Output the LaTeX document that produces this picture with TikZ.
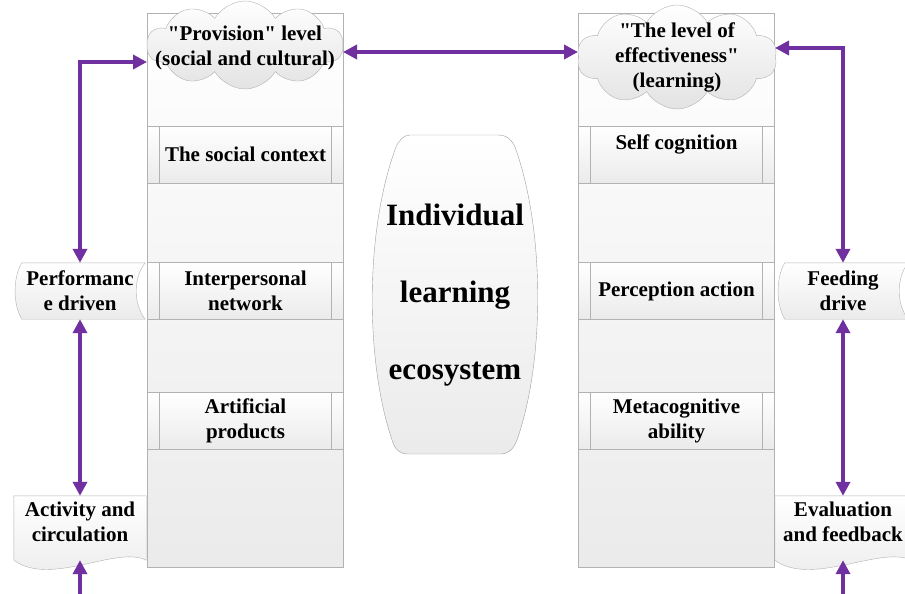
\documentclass[tikz,border=0pt]{standalone}
\usepackage{fontspec}
\setmainfont{Liberation Serif}
\usetikzlibrary{shapes.symbols,arrows.meta,backgrounds}
\definecolor{linkpurple}{HTML}{7030A0}
\begin{document}
\begin{tikzpicture}[x=1pt,y=-1pt,
    font=\bfseries\fontsize{21}{25}\selectfont,
    column/.style={draw=gray!60, top color=white, bottom color=gray!16, minimum width=196pt, minimum height=554pt},
    procbox/.style={draw=gray!60, top color=white, bottom color=gray!16, minimum width=196pt, minimum height=57pt, align=center,
        path picture={\draw[gray!60] ([xshift=12pt]path picture bounding box.north west) -- ([xshift=12pt]path picture bounding box.south west);
                      \draw[gray!60] ([xshift=-12pt]path picture bounding box.north east) -- ([xshift=-12pt]path picture bounding box.south east);}},
    level/.style={cloud, cloud puffs=10, cloud puff arc=120, cloud ignores aspect, draw=gray!60, top color=white, bottom color=gray!22, inner sep=0pt},
    sidebox/.style={minimum width=130pt, minimum height=56pt, align=center, inner sep=0pt},
    shapeline/.style={draw=gray!60, top color=white, bottom color=gray!16},
    link/.style={draw=linkpurple, line width=3.5pt, >={Triangle[length=14pt,width=14pt]}}]
    \useasboundingbox (0,0) rectangle (905,594);
    \clip (0,0) rectangle (905,594);

    % the two columns
    \node[column] (leftcol) at (245,290) {};
    \node[column] (rightcol) at (676.5,290) {};

    \node[procbox] (social) at (245.5,154.5) {The social context};
    \node[procbox] (network) at (245.5,291) {Interpersonal\\network};
    \node[procbox] (products) at (245.5,421) {Artificial\\products};

    \node[procbox] (self) at (676.5,154.5) {Self cognition\\~};
    \node[procbox] (perception) at (676.5,291) {Perception action};
    \node[procbox] (meta) at (676.5,421) {Metacognitive\\ability};

    \node[level, minimum width=196pt, minimum height=88pt,
        label={[align=center, yshift=-3pt]center:{\textquotedbl Provision\textquotedbl{} level\\(social and cultural)}}] (provision) at (245,45) {};
    \node[level, minimum width=200pt, minimum height=104pt,
        label={[align=center]center:{\textquotedbl The level of\\effectiveness\textquotedbl\\(learning)}}] (effect) at (677,57) {};

    % centre
    \draw[draw=gray!75, top color=white, bottom color=gray!16]
        (410,135) -- (498,135) .. controls (507,135) and (512,140) .. (515,147)
        .. controls (545,230) and (545,360) .. (517,440)
        .. controls (513,450) and (508,454) .. (500,454) -- (408,454)
        .. controls (400,454) and (395,450) .. (392,440)
        .. controls (365,360) and (365,230) .. (396,147)
        .. controls (399,140) and (404,135) .. (410,135) -- cycle;
    \node[font=\bfseries\fontsize{31}{77}\selectfont, align=center] (eco) at (455,295) {Individual\\learning\\ecosystem};

    % side boxes
    \node[sidebox] (perf) at (80,291) {Performanc\\e driven};
    \node[sidebox, minimum width=132pt, minimum height=64pt,
        label={[yshift=6pt, align=center]center:{Activity and\\circulation}}] (activity) at (80,528) {};
    \node[sidebox] (feed) at (843,291) {Feeding\\drive};
    \node[sidebox, minimum width=136pt, minimum height=64pt,
        label={[yshift=6pt, align=center]center:{Evaluation\\and feedback}}] (evaluation) at (843,528) {};

    \begin{scope}[on background layer]
        \path[shapeline] ([xshift=7pt]perf.north west) -- (perf.north east) .. controls +(-12,15) and +(-12,-15) .. (perf.south east)
            -- ([xshift=7pt]perf.south west) .. controls +(-9,-15) and +(-9,15) .. ([xshift=7pt]perf.north west) -- cycle;
        \path[shapeline] ([xshift=7pt]feed.north west) -- (feed.north east) .. controls +(-12,15) and +(-12,-15) .. (feed.south east)
            -- ([xshift=7pt]feed.south west) .. controls +(-9,-15) and +(-9,15) .. ([xshift=7pt]feed.north west) -- cycle;
        \path[shapeline] (activity.north west) -- (activity.north east) -- (activity.south east)
            .. controls +(-30,-15) and +(37,27) .. (activity.south west) -- cycle;
        \path[shapeline] (evaluation.north west) -- (evaluation.north east) -- (evaluation.south east)
            .. controls +(-30,-15) and +(37,27) .. (evaluation.south west) -- cycle;
    \end{scope}

    % arrows
    \coordinate (provin) at (147,62);
    \coordinate (provout) at (343,52);
    \coordinate (effin) at (578,52);
    \coordinate (effout) at (775,48);
    \coordinate (actin) at (80,610);
    \coordinate (evalin) at (843,610);

    \draw[link,<->] (perf.north) |- (provin);
    \draw[link,<->] (provout) -- (effin);
    \draw[link,<->] (effout) -| (feed.north);
    \draw[link,<->] (perf.south) -- (activity.north);
    \draw[link,<->] (feed.south) -- (evaluation.north);
    \draw[link,->] (actin) -- (activity.south);
    \draw[link,->] (evalin) -- (evaluation.south);
\end{tikzpicture}
\end{document}
